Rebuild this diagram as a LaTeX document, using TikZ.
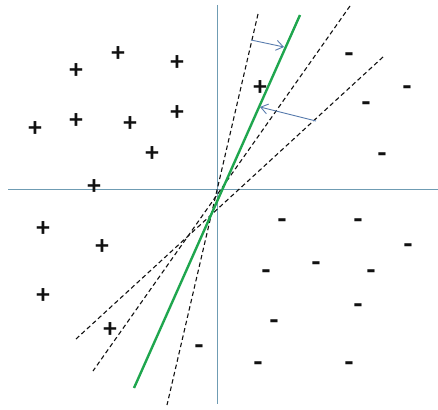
\documentclass[tikz,border=0pt]{standalone}
\usepackage{fontspec}
\usepackage{xcolor}
\usepackage{tikz}
\usetikzlibrary{arrows.meta}
\newfontfamily\signfont{Carlito}
\definecolor{axisblue}{HTML}{6F9CB3}
\definecolor{sepgreen}{HTML}{1FA64E}
\definecolor{shiftblue}{HTML}{5A7DAE}
\definecolor{dark}{HTML}{111111}
\tikzset{
    possign/.style={
        inner sep=0pt, text=dark, font=\signfont\bfseries\fontsize{27}{27}\selectfont
    },
    negsign/.style={
        inner sep=0pt, text=dark, anchor=base, yshift=-7.5pt,
        font=\signfont\bfseries\fontsize{29}{29}\selectfont
    },
    axisline/.style={
        line width=0.9pt, color=axisblue
    },
    sepline/.style={
        line width=2.4pt, color=sepgreen
    },
    candline/.style={
        line width=1.1pt, color=dark, dash pattern=on 4.5pt off 3pt
    },
    shiftarrow/.style={
        -{Straight Barb[length=7pt, width=10pt]}, line width=0.9pt, color=shiftblue
    },
}
\begin{document}
\begin{tikzpicture}[x=1pt, y=-1pt]
    \useasboundingbox (0,0) rectangle (438,409);

    % axes
    \coordinate (xl) at (8,189);
    \coordinate (xr) at (438,189);
    \coordinate (yt) at (217,5);
    \coordinate (yb) at (217,404);
    \draw[axisline] (xl) -- (xr);
    \draw[axisline] (yt) -- (yb);

    % candidate separators
    \coordinate (da1) at (258,14);
    \coordinate (db1) at (167,405);
    \coordinate (da2) at (350,6);
    \coordinate (db2) at (93,371);
    \coordinate (da3) at (383,57);
    \coordinate (db3) at (76,339);
    \draw[candline] (da1) -- (db1);
    \draw[candline] (da2) -- (db2);
    \draw[candline] (da3) -- (db3);

    % chosen separator
    \coordinate (gtop) at (300,15);
    \coordinate (gbot) at (134,388);
    \draw[sepline] (gtop) -- (gbot);

    % margin arrows
    \coordinate (s1) at (251,40);
    \coordinate (e1) at (284,47);
    \coordinate (s2) at (316,121);
    \coordinate (e2) at (260,107);
    \draw[shiftarrow] (s1) -- (e1);
    \draw[shiftarrow] (s2) -- (e2);

    % positive samples
    \node[possign] (p1) at (76,71) {+};
    \node[possign] (p2) at (118,54) {+};
    \node[possign] (p3) at (177,63) {+};
    \node[possign] (p4) at (35,129) {+};
    \node[possign] (p5) at (76,121) {+};
    \node[possign] (p6) at (130,124) {+};
    \node[possign] (p7) at (177,113) {+};
    \node[possign] (p8) at (152,154) {+};
    \node[possign] (p9) at (94,187) {+};
    \node[possign] (p10) at (260,88) {+};
    \node[possign] (p11) at (43,229) {+};
    \node[possign] (p12) at (102,247) {+};
    \node[possign] (p13) at (43,296) {+};
    \node[possign] (p14) at (110,330) {+};

    % negative samples
    \node[negsign] (m1) at (349,55) {-};
    \node[negsign] (m2) at (407,88) {-};
    \node[negsign] (m3) at (366,104) {-};
    \node[negsign] (m4) at (382,155) {-};
    \node[negsign] (m5) at (199,347) {-};
    \node[negsign] (m6) at (282,221) {-};
    \node[negsign] (m7) at (358,221) {-};
    \node[negsign] (m8) at (408,246) {-};
    \node[negsign] (m9) at (316,264) {-};
    \node[negsign] (m10) at (266,272) {-};
    \node[negsign] (m11) at (371,272) {-};
    \node[negsign] (m12) at (358,306) {-};
    \node[negsign] (m13) at (274,322) {-};
    \node[negsign] (m14) at (258,364) {-};
    \node[negsign] (m15) at (349,364) {-};
\end{tikzpicture}
\end{document}
